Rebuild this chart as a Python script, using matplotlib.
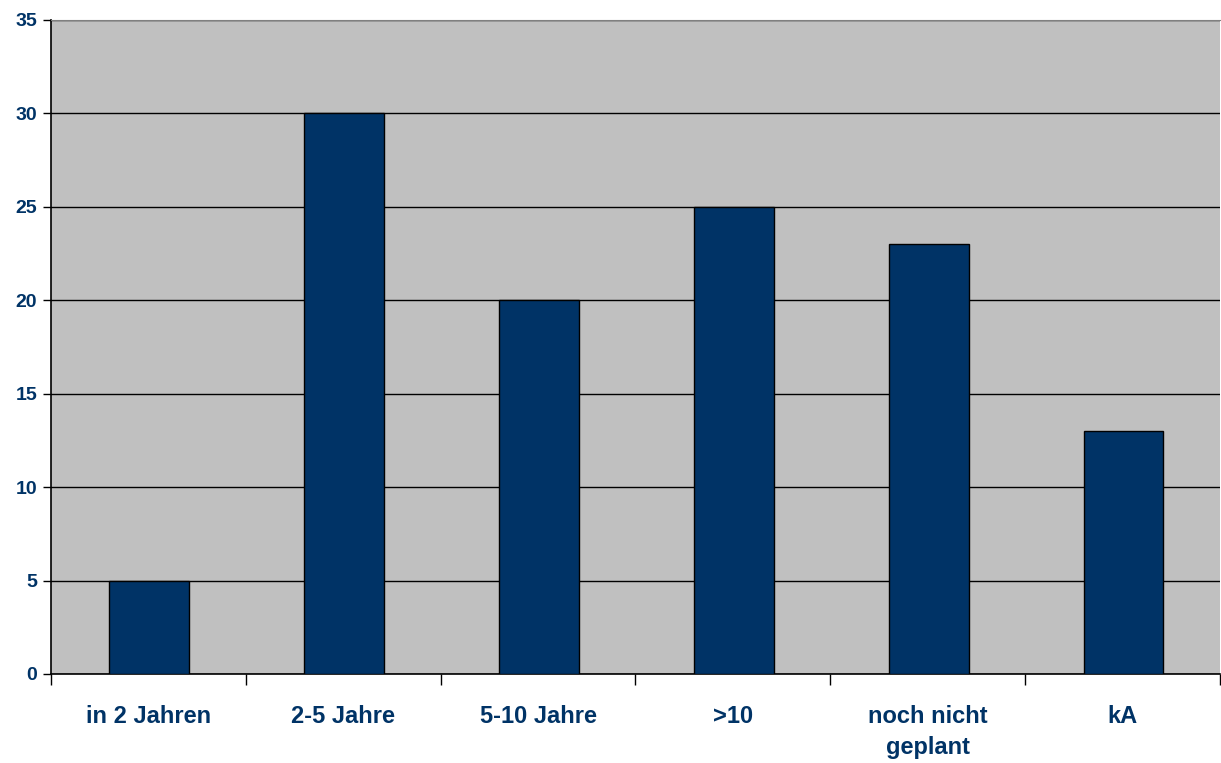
import matplotlib.pyplot as plt
import numpy as np

plt.rcParams['font.family'] = ['Liberation Sans', 'DejaVu Sans']

# data
categories = ['in 2 Jahren', '2-5 Jahre', '5-10 Jahre', '>10', 'noch nicht\ngeplant', 'kA']
values = [5, 30, 20, 25, 23, 13]
yticks = [0, 5, 10, 15, 20, 25, 30, 35]

navy = '#003366'

fig = plt.figure(figsize=(12.21, 7.63), dpi=100)
ax = fig.add_axes([51/1221, 1 - 674/763, 1169/1221, 654/763])
ax.set_facecolor('#C0C0C0')

x = np.arange(len(categories))
ax.bar(x + 0.005, values, width=0.41, color=navy, edgecolor='black', linewidth=1, zorder=3)

ax.set_xlim(-0.5, len(categories) - 0.5)
ax.set_ylim(0, 35)
ax.set_yticks(yticks)
ax.yaxis.grid(True, color='black', linewidth=1)
ax.set_axisbelow(True)

# category labels centred, ticks on the category boundaries
ax.set_xticks(x)
ax.set_xticklabels(categories, fontsize=17, fontweight='bold', color=navy, linespacing=1.45)
ax.tick_params(axis='x', which='major', length=0, pad=22)
ax.set_xticks(np.arange(len(categories) + 1) - 0.5, minor=True)
ax.tick_params(axis='x', which='minor', length=8, width=1, direction='out')
ax.tick_params(axis='y', length=6, width=1, labelsize=14, labelcolor=navy, pad=4)
for lab in ax.get_yticklabels():
    lab.set_fontweight('bold')

ax.spines['top'].set_color('#808080')
ax.spines['right'].set_visible(False)
ax.spines['left'].set_linewidth(1.2)
ax.spines['bottom'].set_linewidth(1.2)

plt.savefig('out.png', dpi=100)
plt.close()
